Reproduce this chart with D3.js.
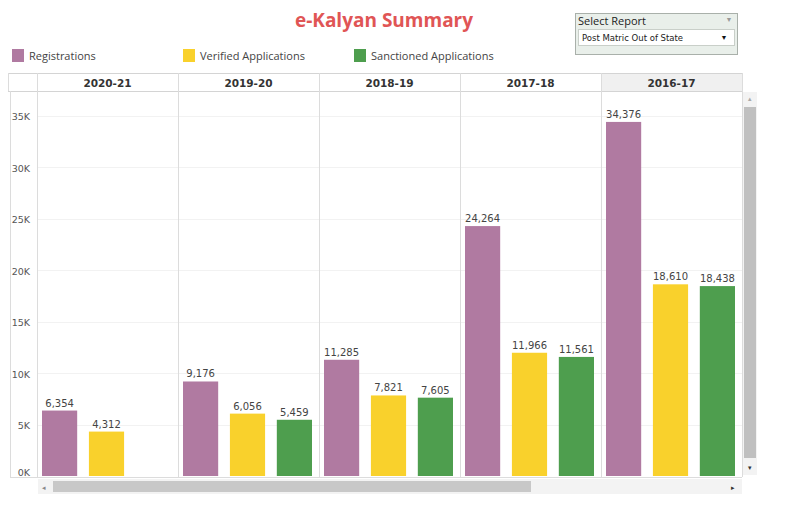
<!DOCTYPE html>
<html><head><meta charset="utf-8">
<script src="https://cdn.jsdelivr.net/npm/d3@7"></script>
<style>body{margin:0;background:#fff;}svg{display:block;}</style>
</head><body>
<svg id="c" width="805" height="506"></svg>
<script>
const years = ["2020-21","2019-20","2018-19","2017-18","2016-17"];
const seriesNames = ["Registrations","Verified Applications","Sanctioned Applications"];
const registrations = [6354, 9176, 11285, 24264, 34376];
const verified = [4312, 6056, 7821, 11966, 18610];
const sanctioned = [null, 5459, 7605, 11561, 18438];
const yTicks = [0,5000,10000,15000,20000,25000,30000,35000];
const colors = ["#b07aa1","#f9d12c","#4e9e4e"];

const svg = d3.select("#c");
const font = "'DejaVu Sans', Verdana, sans-serif";
const seriesVals = [registrations, verified, sanctioned];

// Title
svg.append("text").attr("x",384).attr("y",27).attr("text-anchor","middle")
  .attr("font-family","'Open Sans', sans-serif").attr("font-weight","bold").attr("font-size",19)
  .attr("fill","#e05555").text("e-Kalyan Summary");

// Select report box
const sb = svg.append("g");
sb.append("rect").attr("x",575.5).attr("y",13.5).attr("width",162).attr("height",41).attr("fill","#e9efea").attr("stroke","#a9b0aa");
sb.append("text").attr("x",578).attr("y",25).attr("font-family","'Open Sans', sans-serif").attr("font-size",11).attr("fill","#222").text("Select Report");
sb.append("text").attr("x",729).attr("y",22).attr("text-anchor","middle").attr("font-size",7).attr("fill","#999").text("▼");
sb.append("rect").attr("x",578.5).attr("y",29.5).attr("width",156).attr("height",16).attr("fill","#fff").attr("stroke","#c9cfc9");
sb.append("text").attr("x",582).attr("y",41).attr("font-family",font).attr("font-size",8.5).attr("fill","#222").text("Post Matric Out of State");
sb.append("text").attr("x",724).attr("y",40).attr("text-anchor","middle").attr("font-size",7).attr("fill","#111").text("▼");

// Legend
const legX = [12, 183, 354];
seriesNames.forEach((n,i)=>{
  svg.append("rect").attr("x",legX[i]).attr("y",49).attr("width",12).attr("height",13).attr("fill",colors[i]);
  svg.append("text").attr("x",legX[i]+17).attr("y",60).attr("font-family","'Open Sans', sans-serif").attr("font-size",11).attr("fill","#444").text(n);
});

// Scales
const x0 = d3.scaleBand().domain(years).range([37, 742]).padding(0);
const x1 = d3.scaleBand().domain(d3.range(3)).range([5, 134]).paddingInner(0.25).paddingOuter(0);
const y = d3.scaleLinear().domain([0, 35000]).range([476, 115.5]);

const plotBot = 477;

// Header row
svg.append("rect").attr("x",x0("2016-17")).attr("y",73.5).attr("width",x0.bandwidth()).attr("height",18).attr("fill","#f0f0f0");
svg.append("line").attr("x1",8).attr("x2",742).attr("y1",73.5).attr("y2",73.5).attr("stroke","#d4d4d4");
svg.append("line").attr("x1",8).attr("x2",742).attr("y1",91.5).attr("y2",91.5).attr("stroke","#d4d4d4");
years.forEach(yr=>{
  svg.append("text").attr("x",x0(yr)+x0.bandwidth()/2).attr("y",86.5).attr("text-anchor","middle")
    .attr("font-family",font).attr("font-weight","bold").attr("font-size",10.5).attr("fill","#333").text(yr);
});

// Gridlines
svg.append("g").selectAll("line").data(yTicks.slice(1)).join("line")
  .attr("x1",37).attr("x2",742).attr("y1",d=>Math.round(y(d))+0.5).attr("y2",d=>Math.round(y(d))+0.5)
  .attr("stroke","#f2f2f2");

// Column dividers
[37, ...years.map(yr=>x0(yr)+x0.bandwidth())].forEach(xx=>{
  svg.append("line").attr("x1",Math.round(xx)+0.5).attr("x2",Math.round(xx)+0.5)
    .attr("y1",73).attr("y2",plotBot).attr("stroke","#dcdcdc");
});
svg.append("line").attr("x1",8.5).attr("x2",8.5).attr("y1",73).attr("y2",91).attr("stroke","#dcdcdc");
svg.append("line").attr("x1",10.5).attr("x2",10.5).attr("y1",91).attr("y2",plotBot).attr("stroke","#dcdcdc");
svg.append("line").attr("x1",10).attr("x2",742).attr("y1",plotBot+0.5).attr("y2",plotBot+0.5).attr("stroke","#dcdcdc");

// Y axis labels
const yAxis = d3.axisLeft(y).tickValues(yTicks).tickSize(0).tickFormat(d=>(d/1000)+"K");
const ga = svg.append("g").attr("transform","translate(33,0)").call(yAxis);
ga.select(".domain").remove();
ga.selectAll("text").attr("font-family",font).attr("font-size",9.5).attr("fill","#555")
  .attr("dy",d=> d===0 ? "-0.05em" : "0.45em");

// Bars
const fmt = d3.format(",");
years.forEach((yr,j)=>{
  seriesVals.forEach((arr,i)=>{
    const v = arr[j];
    if (v == null) return;
    const bx = x0(yr)+x1(i);
    svg.append("rect").attr("x",bx).attr("y",y(v)).attr("width",x1.bandwidth()).attr("height",y(0)-y(v)).attr("fill",colors[i]);
    svg.append("text").attr("x",bx+x1.bandwidth()/2).attr("y",y(v)-4).attr("text-anchor","middle")
      .attr("font-family",font).attr("font-size",10).attr("fill","#444").text(fmt(v));
  });
});

// Horizontal scrollbar
svg.append("rect").attr("x",38).attr("y",479).attr("width",704).attr("height",15).attr("fill","#f3f3f3");
svg.append("rect").attr("x",53).attr("y",481).attr("width",478).attr("height",11).attr("fill","#c8c8c8");
svg.append("text").attr("x",44).attr("y",490).attr("text-anchor","middle").attr("font-size",7).attr("fill","#888").text("◂");
svg.append("text").attr("x",733).attr("y",490).attr("text-anchor","middle").attr("font-size",7).attr("fill","#333").text("▸");

// Vertical scrollbar
svg.append("rect").attr("x",743).attr("y",92).attr("width",14).attr("height",383).attr("fill","#f3f3f3");
svg.append("rect").attr("x",744).attr("y",107).attr("width",12).attr("height",351).attr("fill","#c0c0c0");
svg.append("text").attr("x",750).attr("y",101).attr("text-anchor","middle").attr("font-size",7).attr("fill","#aaa").text("▴");
svg.append("text").attr("x",750).attr("y",470).attr("text-anchor","middle").attr("font-size",7).attr("fill","#333").text("▾");
</script>
</body></html>
